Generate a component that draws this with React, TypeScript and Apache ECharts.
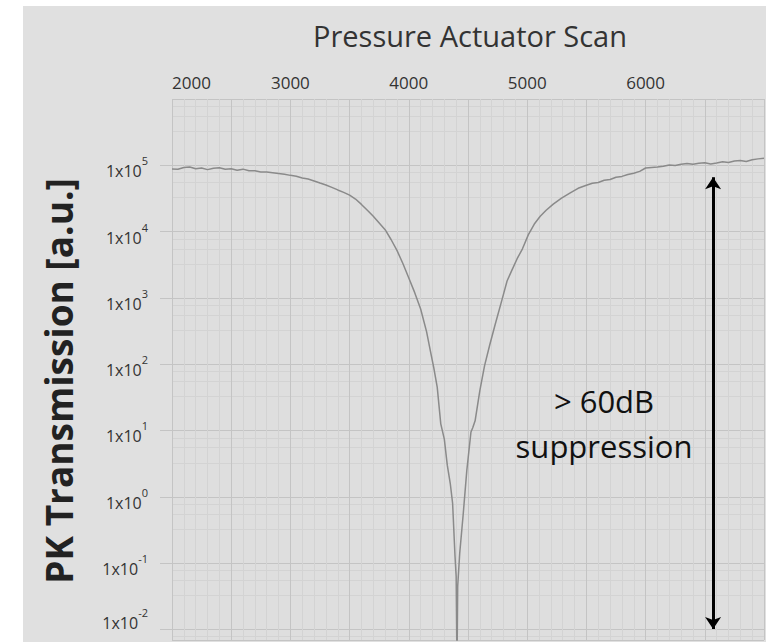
import React, { useEffect, useRef } from "react";
import * as echarts from "echarts";

// Pressure actuator position (x) and PK transmission [a.u.]
const actuatorPositions = [
  2000, 2050, 2100, 2150, 2200, 2250, 2300, 2350, 2400, 2450, 2500, 2550, 2600, 2650, 2700, 2750,
  2800, 2850, 2900, 2950, 3000, 3050, 3100, 3150, 3200, 3250, 3300, 3350, 3400, 3450, 3500, 3550,
  3600, 3650, 3700, 3750, 3800, 3850, 3900, 3950, 4000, 4050, 4100, 4150, 4180, 4210, 4240, 4270,
  4300, 4325, 4350, 4370, 4390, 4400, 4407, 4413, 4430, 4460, 4490, 4525, 4540, 4560, 4600,
  4640, 4685, 4730, 4785, 4830, 4870, 4915, 4960, 5010, 5060, 5110, 5160, 5220, 5290, 5360, 5430,
  5500, 5550, 5600, 5650, 5700, 5750, 5800, 5850, 5900, 5950, 6000, 6050, 6100, 6150, 6200, 6250,
  6300, 6350, 6400, 6450, 6500, 6550, 6600, 6650, 6700, 6750, 6800, 6850, 6900, 6950, 7000,
];
const transmission = [
  88000, 87000, 92500, 94000, 88500, 91000, 86000, 90500, 92000, 87000, 88500, 84500, 87500, 83000, 82500, 79500,
  79000, 77000, 75000, 73000, 70500, 68500, 64500, 62000, 58000, 54000, 50500, 46500, 42500, 39000, 35500, 31000,
  25700, 21000, 17000, 13500, 10700, 7600, 5200, 3300, 2000, 1200, 680, 310, 166, 90, 45, 12.6,
  7.4, 3.0, 1.6, 0.8, 0.13, 0.063, 0.0025, 0.045, 0.14, 0.56, 2.5, 9.5, 11, 14, 40,
  95, 200, 400, 910, 1800, 2600, 3900, 5500, 9000, 13000, 17000, 21000, 26000, 32000, 38000, 45000,
  50000, 53500, 55000, 59500, 61000, 66000, 68000, 72500, 76000, 81000, 91000, 93000, 94500, 96500, 101000, 99000,
  104000, 106500, 103500, 107000, 109500, 105000, 108000, 113000, 110500, 116000, 118500, 114000, 121000, 125000, 128000,
];

// Axis ranges and annotation
const xRange = [2000, 7000];
const yRange = [0.00692, 1e6];
const suppressionArrowX = 6570;
const suppressionArrowEnds = [66000, 0.0101];
const titleText = "Pressure Actuator Scan";
const yAxisTitle = "PK Transmission [a.u.]";
const annotationLines = ["> 60dB", "suppression"];

const FONT = '"Open Sans", "Noto Sans", sans-serif';

export default function App() {
  const ref = useRef<HTMLDivElement>(null);

  useEffect(() => {
    if (!ref.current) return;
    const chart = echarts.init(ref.current, undefined, { renderer: "svg" });
    const data = actuatorPositions.map((x, i) => [x, transmission[i]]);

    const textStyle = (text: string, font: string, fill: string) => ({
      text,
      fill,
      font,
      stroke: "none",
      lineWidth: 0,
      align: "center",
      verticalAlign: "middle",
      textAlign: "center",
      textVerticalAlign: "middle",
    });

    chart.setOption({
      animation: false,
      backgroundColor: "transparent",
      grid: {
        left: 172,
        right: 2,
        top: 99,
        bottom: 2,
        show: true,
        backgroundColor: "#dedede",
        borderWidth: 0,
        outerBoundsMode: "none",
      },
      xAxis: {
        type: "value",
        position: "top",
        min: xRange[0],
        max: xRange[1],
        interval: 500,
        axisLine: { show: false },
        axisTick: { show: false },
        axisLabel: {
          show: true,
          margin: 8,
          color: "#333",
          fontSize: 17,
          fontFamily: FONT,
          alignMinLabel: "left",
          showMaxLabel: false,
          formatter: (v: number) => (v % 1000 === 0 && v < xRange[1] ? String(v) : ""),
        },
        splitLine: { show: true, lineStyle: { color: "#c4c4c4", width: 1 } },
        minorTick: { show: false, splitNumber: 5 },
        minorSplitLine: { show: true, lineStyle: { color: "#d3d3d3", width: 1 } },
      },
      yAxis: {
        type: "log",
        logBase: 10,
        min: yRange[0],
        max: yRange[1],
        axisLine: { show: false },
        axisTick: { show: true, length: 12, lineStyle: { color: "#c4c4c4" } },
        axisLabel: {
          margin: 24,
          showMinLabel: false,
          showMaxLabel: false,
          padding: [4, 0, 0, 0],
          formatter: (v: number) => {
            const l = Math.log10(v);
            const e = Math.round(l);
            if (Math.abs(l - e) > 0.01 || e >= 6) return "";
            if (e === -2) return `{b|1x10}{s|${e}}\n{gap| }`;
            return `{b|1x10}{s|${e}}`;
          },
          rich: {
            b: { fontSize: 16, fontFamily: FONT, color: "#333", verticalAlign: "bottom", lineHeight: 24 },
            s: { fontSize: 11, fontFamily: FONT, color: "#333", verticalAlign: "top", lineHeight: 24 },
            gap: { fontSize: 10, lineHeight: 24 },
          },
        },
        splitLine: { show: true, lineStyle: { color: "#c4c4c4", width: 1 } },
        minorTick: { show: false, splitNumber: 4 },
        minorSplitLine: { show: true, lineStyle: { color: "#d3d3d3", width: 1 } },
      },
      series: [
        {
          type: "line",
          data,
          symbol: "none",
          showSymbol: false,
          lineStyle: { color: "#8a8a8a", width: 1.5 },
          clip: true,
          markLine: {
            silent: true,
            symbol: ["arrow", "arrow"],
            symbolSize: [12, 12],
            label: { show: false },
            lineStyle: { color: "#000", width: 3, type: "solid" },
            data: [
              [
                { coord: [suppressionArrowX, suppressionArrowEnds[0]] },
                { coord: [suppressionArrowX, suppressionArrowEnds[1]] },
              ],
            ],
          },
        },
      ],
      graphic: [
        {
          type: "text",
          x: 470,
          y: 35,
          style: textStyle(titleText, `29px ${FONT}`, "#333"),
        },
        {
          type: "text",
          x: 58,
          y: 381,
          rotation: Math.PI / 2,
          style: textStyle(yAxisTitle, `bold 37px ${FONT}`, "#222"),
        },
        {
          type: "text",
          x: 604,
          y: 401,
          z: 100,
          style: textStyle(annotationLines[0], `31px ${FONT}`, "#111"),
        },
        {
          type: "text",
          x: 604,
          y: 446,
          z: 100,
          style: textStyle(annotationLines[1], `31px ${FONT}`, "#111"),
        },
      ],
    });

    return () => chart.dispose();
  }, []);

  return (
    <div
      style={{
        position: "fixed",
        left: 0,
        top: 0,
        width: 766,
        height: 642,
        overflow: "hidden",
        background: "#ffffff",
      }}
    >
      <div
        style={{
          position: "absolute",
          left: 23,
          top: 6,
          right: 0,
          bottom: 0,
          background: "#e0e0e0",
        }}
      />
      <div ref={ref} style={{ position: "absolute", left: 0, top: 0, width: 766, height: 642 }} />
    </div>
  );
}
